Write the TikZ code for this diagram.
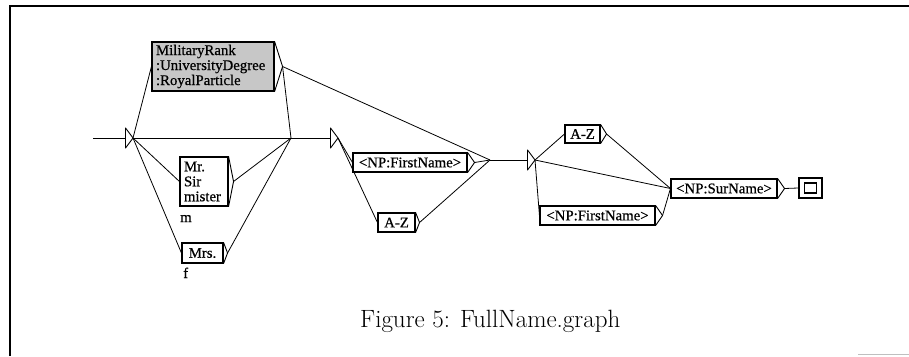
\documentclass[tikz,border=0pt]{standalone}
\usepackage{fontspec}
\newfontfamily\gfont[FakeBold=0.6]{Liberation Serif}
\begin{document}
\begin{tikzpicture}[x=1pt,y=-1pt,
  gbox/.style={draw, line width=1.1pt, inner sep=0pt,
    font=\gfont\fontsize{14.8}{15}\selectfont, minimum height=19pt},
  edge/.style={line width=0.8pt},
  tri/.style={line width=0.9pt, line join=round},
  lbl/.style={inner sep=0pt, anchor=base west, font=\gfont\fontsize{14.8}{15}\selectfont}
]
\useasboundingbox (0,0) rectangle (909,356);

% frame of the figure
\draw[line width=1.3pt] (10,356) -- (10,6) -- (909,6);
\draw[black!25, line width=1pt] (858,354) -- (909,354);

% boxes
\node[gbox, fill=black!22, align=left, text width=114pt, minimum width=122pt,
      minimum height=49pt] (top) at (213,66.5)
      {MilitaryRank\\:UniversityDegree\\:RoyalParticle};
\node[gbox, align=left, text width=40pt, minimum width=48pt,
      minimum height=49pt] (mr) at (204,181.5) {Mr.\\Sir\\mister};
\node[gbox, minimum width=41pt, minimum height=20pt] (mrs) at (202.5,253) {Mrs.};
\node[gbox, minimum width=114pt] (fn1) at (410,162.5) {<NP:FirstName>};
\node[gbox, minimum width=37pt] (az1) at (396.5,222.5) {A-Z};
\node[gbox, minimum width=35pt, minimum height=18pt] (az2) at (582.5,134) {A-Z};
\node[gbox, minimum width=115pt] (fn2) at (597.5,215.5) {<NP:FirstName>};
\node[gbox, minimum width=106pt] (sur) at (724,188.5) {<NP:SurName>};

% final state
\node[draw, line width=1.6pt, minimum width=23pt, minimum height=20pt,
      inner sep=0pt] (fin) at (810.5,188) {};
\node[draw, line width=1.2pt, minimum width=12pt, minimum height=10pt,
      inner sep=0pt] (finin) at (fin.center) {};

% output labels
\node[lbl] (lm) at (180,222) {m};
\node[lbl] (lf) at (183,278) {f};

% output markers on the right of each box
\foreach \n/\d in {top/8,mr/5,mrs/4,fn1/7,az1/4,az2/6,fn2/7,sur/7}{
  \coordinate (\n-o) at ([xshift=\d pt]\n.east);
  \draw[tri] (\n.north east) -- (\n-o) -- (\n.south east);
}

% initial arrow and empty transitions
\coordinate (s0) at (93,138);
\coordinate (i1) at (133,138);
\coordinate (i2) at (338,138);
\coordinate (i3) at (535,160);
\coordinate (j1) at (291,138);
\coordinate (j2) at (490,160);
\foreach \t in {i1,i2,i3}{
  \draw[tri] ([shift={(-7.5,-10)}]\t) -- (\t) -- ([shift={(-7.5,10)}]\t) -- cycle;
}

% connectors
\draw[edge] (s0) -- ([xshift=-7.5pt]i1);
\draw[edge] (i1) -- ([xshift=-7.5pt]i2);
\draw[edge] (i1) -- (top.west);
\draw[edge] (i1) -- (mr.west);
\draw[edge] (i1) -- (mrs.west);
\draw[edge] (top-o) -- (j1);
\draw[edge] (mr-o) -- (j1);
\draw[edge] (mrs-o) -- (j1);
\draw[edge] (top-o) -- (j2);
\draw[edge] (i2) -- (fn1.west);
\draw[edge] (i2) -- (az1.west);
\draw[edge] (fn1-o) -- (j2);
\draw[edge] (az1-o) -- (j2);
\draw[edge] (j2) -- ([xshift=-7.5pt]i3);
\draw[edge] (i3) -- (az2.west);
\draw[edge] (i3) -- (sur.west);
\draw[edge] (i3) -- (fn2.west);
\draw[edge] (az2-o) -- (sur.west);
\draw[edge] (fn2-o) -- (sur.west);
\draw[edge] (sur-o) -- (fin.west);

% caption
\node[inner sep=0pt, anchor=base west, font=\fontsize{25}{30}\selectfont]
  (cap) at (360,327) {Figure 5: FullName.graph};
\end{tikzpicture}
\end{document}
